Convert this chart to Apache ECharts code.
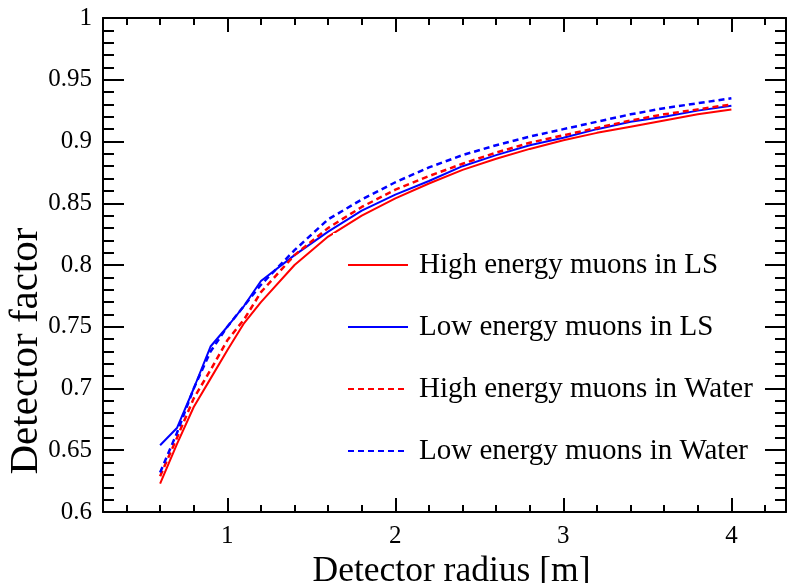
<!DOCTYPE html>
<html>
<head>
<meta charset="utf-8">
<script src="https://cdn.jsdelivr.net/npm/echarts/dist/echarts.min.js"></script>
<style>
  html, body { margin: 0; padding: 0; background: #fff; }
  #chart { width: 787px; height: 583px; }
</style>
</head>
<body>
<div id="chart"></div>
<script>
// detector radius [m]
const radius = [0.6, 0.7, 0.8, 0.9, 1.0, 1.1, 1.2, 1.4, 1.6, 1.8, 2.0, 2.2, 2.4, 2.6, 2.8, 3.0, 3.2, 3.4, 3.6, 3.8, 4.0];

const highLS = [0.623, 0.655, 0.685, 0.708, 0.731, 0.753, 0.770, 0.800, 0.823, 0.840, 0.854, 0.866, 0.877, 0.886, 0.894, 0.901, 0.907, 0.912, 0.917, 0.922, 0.926];
const lowLS = [0.654, 0.668, 0.700, 0.734, 0.750, 0.767, 0.787, 0.808, 0.827, 0.844, 0.857, 0.868, 0.880, 0.889, 0.897, 0.903, 0.910, 0.916, 0.920, 0.925, 0.929];
const highWater = [0.629, 0.660, 0.692, 0.715, 0.739, 0.756, 0.778, 0.808, 0.830, 0.847, 0.861, 0.872, 0.882, 0.891, 0.899, 0.905, 0.911, 0.917, 0.922, 0.926, 0.930];
const lowWater = [0.632, 0.664, 0.700, 0.730, 0.750, 0.767, 0.784, 0.812, 0.837, 0.853, 0.867, 0.879, 0.889, 0.897, 0.904, 0.910, 0.916, 0.922, 0.927, 0.931, 0.935];

const xMajor = [1, 2, 3, 4];
const xMinor = [0.4, 0.6, 0.8, 1.2, 1.4, 1.6, 1.8, 2.2, 2.4, 2.6, 2.8, 3.2, 3.4, 3.6, 3.8, 4.2];

const font = 'Liberation Serif';
const black = '#000';

const pairs = ys => radius.map((x, i) => [x, ys[i]]);

function xAxisDef(pos, ticks, len, withLabels, withLine) {
  return {
    type: 'value', position: pos, min: 0.26, max: 4.325,
    splitLine: { show: false },
    axisLine: { show: withLine, onZero: false, lineStyle: { color: black, width: 2 } },
    axisTick: { inside: true, length: len, customValues: ticks, lineStyle: { color: black, width: 2 } },
    axisLabel: withLabels
      ? { customValues: ticks, fontFamily: font, fontSize: 25, color: black, margin: 12 }
      : { show: false }
  };
}

function yAxisDef(pos, withLabels) {
  return {
    type: 'value', position: pos, min: 0.6, max: 1, interval: 0.05,
    splitLine: { show: false },
    axisLine: { show: true, onZero: false, lineStyle: { color: black, width: 2 } },
    axisTick: { inside: true, length: 21, lineStyle: { color: black, width: 2 } },
    minorTick: { show: true, splitNumber: 5, length: 11, lineStyle: { color: black, width: 2 } },
    axisLabel: withLabels
      ? { fontFamily: font, fontSize: 25, color: black, margin: 11, formatter: v => String(+v.toFixed(2)) }
      : { show: false }
  };
}

const bottomAxis = xAxisDef('bottom', xMajor, 14, true, true);
bottomAxis.name = 'Detector radius [m]';
bottomAxis.nameLocation = 'middle';
bottomAxis.nameGap = 41;
bottomAxis.nameTextStyle = { fontFamily: font, fontSize: 35.5, color: black, padding: [0, 0, 0, 14] };

const leftAxis = yAxisDef('left', true);
leftAxis.name = 'Detector factor';
leftAxis.nameLocation = 'middle';
leftAxis.nameGap = 56;
leftAxis.nameMoveOverlap = false;
leftAxis.nameTextStyle = { fontFamily: font, fontSize: 41, color: black, padding: [0, 172, 0, 0] };

function line(name, ys, color, dashed) {
  return {
    name: name, type: 'line', data: pairs(ys), symbol: 'none',
    xAxisIndex: 0, yAxisIndex: 0,
    lineStyle: { color: color, width: dashed ? 2.5 : 2, type: dashed ? [6, 4] : 'solid' },
    itemStyle: { color: color }
  };
}

const chart = echarts.init(document.getElementById('chart'));
chart.setOption({
  animation: false,
  backgroundColor: '#fff',
  grid: { left: 103, top: 18, right: 1, bottom: 71, containLabel: false, outerBoundsMode: 'none' },
  xAxis: [
    bottomAxis,
    xAxisDef('bottom', xMinor, 7, false, false),
    xAxisDef('top', xMajor, 14, false, true),
    xAxisDef('top', xMinor, 7, false, false)
  ],
  yAxis: [leftAxis, yAxisDef('right', false)],
  legend: {
    orient: 'vertical', left: 333, top: 233,
    padding: [17, 10, 10, 14],
    backgroundColor: '#fff',
    itemWidth: 60, itemHeight: 14, itemGap: 32,
    itemStyle: { opacity: 0 },
    textStyle: { fontFamily: font, fontSize: 29, color: black, lineHeight: 30, padding: [0, 0, 0, 6] },
    data: ['High energy muons in LS', 'Low energy muons in LS', 'High energy muons in Water', 'Low energy muons in Water']
  },
  series: [
    line('High energy muons in LS', highLS, '#ff0000', false),
    line('Low energy muons in LS', lowLS, '#0000ff', false),
    line('High energy muons in Water', highWater, '#ff0000', true),
    line('Low energy muons in Water', lowWater, '#0000ff', true)
  ]
});
</script>
</body>
</html>
